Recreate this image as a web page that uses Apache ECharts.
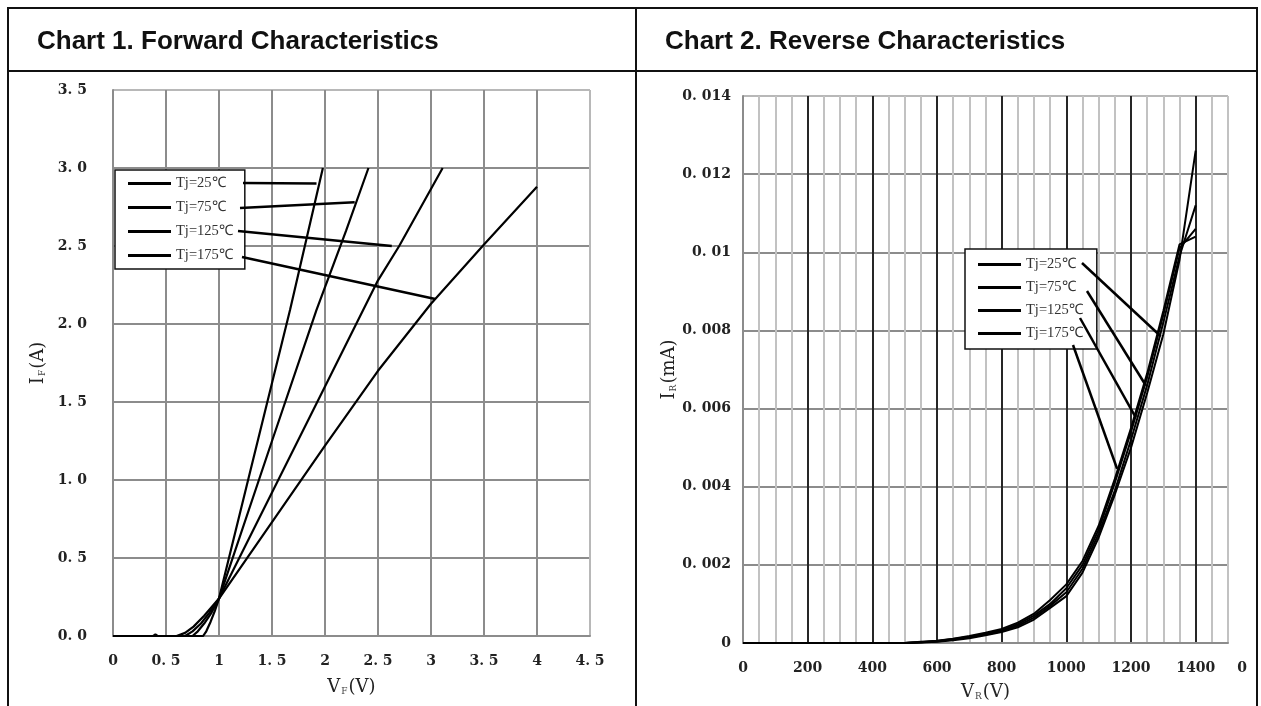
<!DOCTYPE html>
<html><head><meta charset="utf-8">
<script src="https://cdn.jsdelivr.net/npm/echarts@6/dist/echarts.min.js"></script>
<style>html,body{margin:0;padding:0;background:#fff}#c{width:1261px;height:706px}</style>
</head><body><div id="c"></div>
<script>
// ---------- DATA ----------
const seriesNames = ['Tj=25℃', 'Tj=75℃', 'Tj=125℃', 'Tj=175℃'];

// Chart 1: forward characteristics (VF in V, IF in A)
const vf25  = [0, 0.85, 0.88, 0.92, 0.96, 1.0, 1.3, 1.67, 1.98];
const if25  = [0, 0,    0.03, 0.09, 0.16, 0.24, 1.07, 2.09, 3.0];
const vf75  = [0, 0.75, 0.8,  0.86, 0.93, 1.0, 1.5, 1.92, 2.2, 2.41];
const if75  = [0, 0,    0.03, 0.08, 0.15, 0.24, 1.25, 2.09, 2.6, 3.0];
const vf125 = [0, 0.68, 0.75, 0.83, 0.91, 1.0, 1.5, 2.0, 2.5, 2.7, 3.11];
const if125 = [0, 0,    0.03, 0.08, 0.15, 0.24, 0.92, 1.6, 2.28, 2.5, 3.0];
const vf175 = [0, 0.38, 0.4,  0.42, 0.6, 0.68, 0.76, 0.86, 1.0, 1.5, 2.0, 2.5, 3.0, 3.5, 4.0];
const if175 = [0, 0,    0.01, 0,    0,   0.02, 0.06, 0.13, 0.24, 0.73, 1.22, 1.70, 2.13, 2.51, 2.88];

// Chart 2: reverse characteristics (VR in V, IR in mA)
const vr = [0,50,100,150,200,250,300,350,400,450,500,550,600,650,700,750,800,850,900,950,1000,1050,1100,1150,1200,1250,1300,1350,1400];
const ir25  = [0,0,0,0,0,0,0,0,0,0,0,0.00001,0.00003,0.00007,0.00012,0.0002,0.00028,0.0004,0.0006,0.0009,0.0012,0.0018,0.0027,0.0038,0.005,0.0064,0.0079,0.0098,0.0126];
const ir75  = [0,0,0,0,0,0,0,0,0,0,0,0.00002,0.00004,0.00009,0.00015,0.00022,0.0003,0.00044,0.00065,0.00095,0.0013,0.0019,0.0028,0.0039,0.0052,0.0066,0.0082,0.0099,0.0112];
const ir125 = [0,0,0,0,0,0,0,0,0,0,0,0.00002,0.00005,0.0001,0.00016,0.00024,0.00033,0.00048,0.0007,0.001,0.0014,0.002,0.0029,0.0041,0.0054,0.0068,0.0084,0.0101,0.0106];
const ir175 = [0,0,0,0,0,0,0,0,0,0,0,0.00003,0.00006,0.00011,0.00018,0.00026,0.00036,0.00052,0.00075,0.0011,0.0015,0.0021,0.003,0.0042,0.0055,0.0069,0.0085,0.0102,0.0104];

// Leader-line targets (data coordinates on the curves)
const fwdLeaderTo = [[1.92, 2.9], [2.28, 2.78], [2.63, 2.5], [3.04, 2.16]];
const revLeaderTo = [[1292, 0.00785], [1246, 0.00659], [1215, 0.00577], [1157, 0.00446]];

// ---------- LAYOUT / STYLE ----------
const fwdLeaderFrom = [[243,183],[240,208],[238,231],[242,257]];
const revLeaderFrom = [[1082,263],[1087,291],[1080,318],[1073,345]];
const LBL = {fontFamily:'DejaVu Serif', fontWeight:'bold', fontSize:14, color:'#222'};
const zip = (a, b) => a.map((v, i) => [v, b[i]]);
const near = (v, r) => Math.abs(v - r) < 1e-9;

const fwdX = v => near(v, Math.round(v)) ? String(Math.round(v)) : v.toFixed(1).replace('.', '. ');
const fwdY = v => v.toFixed(1).replace('.', '. ');
const revY = v => parseFloat(v.toFixed(4)).toString().replace('.', '. ');
const revX = v => { const r = Math.round(v); if (r === 1500) return '{r|0}'; return r % 200 === 0 ? String(r) : ''; };

const x2Colors = [];
for (let i = 0; i <= 30; i++) x2Colors.push((i % 4 === 0 && i > 0 && i < 30) ? '#262626' : '#c2c2c2');
const x1Colors = ['#8c8c8c','#8c8c8c','#8c8c8c','#8c8c8c','#8c8c8c','#8c8c8c','#8c8c8c','#8c8c8c','#8c8c8c','#b8b8b8'];
const y1Colors = ['#8c8c8c','#8c8c8c','#8c8c8c','#8c8c8c','#8c8c8c','#8c8c8c','#8c8c8c','#b8b8b8'];
const y2Colors = ['#8c8c8c','#8c8c8c','#8c8c8c','#8c8c8c','#8c8c8c','#8c8c8c','#8c8c8c','#b8b8b8'];

const lineSeries = (name, data, xi, w) => ({
  name, type:'line', data, xAxisIndex:xi, yAxisIndex:xi, showSymbol:false, symbol:'none',
  smooth:false, color:'#000',
  lineStyle:{color:'#000', width:w}, z:5
});

const nameRich = {
  a:{fontFamily:'DejaVu Serif', fontSize:18, color:'#222'},
  s:{fontFamily:'DejaVu Serif', fontSize:9, color:'#444', padding:[9,1,0,1]}
};
const legendBase = {
  orient:'vertical', data:seriesNames, icon:'rect', itemWidth:43, itemHeight:3,
  borderColor:'#111', borderWidth:1.5, backgroundColor:'#fff', selectedMode:false,
  textStyle:{fontFamily:'Liberation Serif', fontSize:14.5, color:'#333'}, z:10
};

const chart = echarts.init(document.getElementById('c'), null, {renderer:'canvas'});
chart.setOption({
  animation:false,
  backgroundColor:'#fff',
  title:[
    {text:'Chart 1. Forward Characteristics', left:37, top:29, padding:0,
     textStyle:{fontFamily:'Liberation Sans', fontWeight:'bold', fontSize:26, color:'#111'}},
    {text:'Chart 2. Reverse Characteristics', left:665, top:29, padding:0,
     textStyle:{fontFamily:'Liberation Sans', fontWeight:'bold', fontSize:26, color:'#111'}}
  ],
  legend:[
    Object.assign({}, legendBase, {left:115, top:170, itemGap:9, padding:[6,12,6,13]}),
    Object.assign({}, legendBase, {left:965, top:249, itemGap:8, padding:[8,14,8,13]})
  ],
  grid:[
    {left:113, top:90, width:477, height:546},
    {left:743, top:96, width:485, height:547}
  ],
  xAxis:[
    {type:'value', gridIndex:0, min:0, max:4.5, interval:0.5,
     name:'{a|V}{s|F}{a|(V)}', nameLocation:'middle', nameGap:42, nameTextStyle:{rich:nameRich},
     axisLine:{show:true, lineStyle:{color:'#8c8c8c', width:2}}, axisTick:{show:false},
     axisLabel:Object.assign({margin:18, formatter:fwdX}, LBL),
     splitLine:{show:true, lineStyle:{color:x1Colors, width:2}}},
    {type:'value', gridIndex:1, min:0, max:1500, interval:50,
     name:'{a|V}{s|R}{a|(V)}', nameLocation:'middle', nameGap:40, nameTextStyle:{rich:nameRich},
     axisLine:{show:true, lineStyle:{color:'#8c8c8c', width:2}}, axisTick:{show:false},
     axisLabel:Object.assign({margin:18, formatter:revX, rich:{r:Object.assign({padding:[0,0,0,28]}, LBL)}}, LBL),
     splitLine:{show:true, lineStyle:{color:x2Colors, width:2}}}
  ],
  yAxis:[
    {type:'value', gridIndex:0, min:0, max:3.5, interval:0.5,
     name:'{a|I}{s|F}{a|(A)}', nameLocation:'middle', nameGap:66, nameTextStyle:{rich:nameRich},
     axisLine:{show:true, lineStyle:{color:'#8c8c8c', width:2}}, axisTick:{show:false},
     axisLabel:Object.assign({margin:26, formatter:fwdY}, LBL),
     splitLine:{show:true, lineStyle:{color:y1Colors, width:2}}},
    {type:'value', gridIndex:1, min:0, max:0.014, interval:0.002,
     name:'{a|I}{s|R}{a|(mA)}', nameLocation:'middle', nameGap:54, nameTextStyle:{rich:nameRich},
     axisLine:{show:true, lineStyle:{color:'#8c8c8c', width:2}}, axisTick:{show:false},
     axisLabel:Object.assign({margin:12, formatter:revY}, LBL),
     splitLine:{show:true, lineStyle:{color:y2Colors, width:2}}}
  ],
  series:[
    lineSeries(seriesNames[0], zip(vf25, if25), 0, 2.2),
    lineSeries(seriesNames[1], zip(vf75, if75), 0, 2.2),
    lineSeries(seriesNames[2], zip(vf125, if125), 0, 2.2),
    lineSeries(seriesNames[3], zip(vf175, if175), 0, 2.2),
    lineSeries(seriesNames[0], zip(vr, ir25), 1, 2),
    lineSeries(seriesNames[1], zip(vr, ir75), 1, 2),
    lineSeries(seriesNames[2], zip(vr, ir125), 1, 2),
    lineSeries(seriesNames[3], zip(vr, ir175), 1, 2)
  ]
});

// frame + leader lines
const graphics = [
  {type:'rect', shape:{x:8, y:8, width:1249, height:720}, style:{fill:null, stroke:'#111', lineWidth:2}, z:1, silent:true},
  {type:'line', shape:{x1:8, y1:71, x2:1257, y2:71}, style:{stroke:'#111', lineWidth:2}, z:1, silent:true},
  {type:'line', shape:{x1:636, y1:8, x2:636, y2:720}, style:{stroke:'#111', lineWidth:2}, z:1, silent:true}
];
fwdLeaderTo.forEach((p, i) => {
  const q = chart.convertToPixel({gridIndex:0}, p);
  graphics.push({type:'line', shape:{x1:fwdLeaderFrom[i][0], y1:fwdLeaderFrom[i][1], x2:q[0], y2:q[1]},
    style:{stroke:'#000', lineWidth:2.5}, z:20, silent:true});
});
revLeaderTo.forEach((p, i) => {
  const q = chart.convertToPixel({gridIndex:1}, p);
  graphics.push({type:'line', shape:{x1:revLeaderFrom[i][0], y1:revLeaderFrom[i][1], x2:q[0], y2:q[1]},
    style:{stroke:'#000', lineWidth:2.5}, z:20, silent:true});
});
chart.setOption({graphic:graphics});
</script></body></html>
